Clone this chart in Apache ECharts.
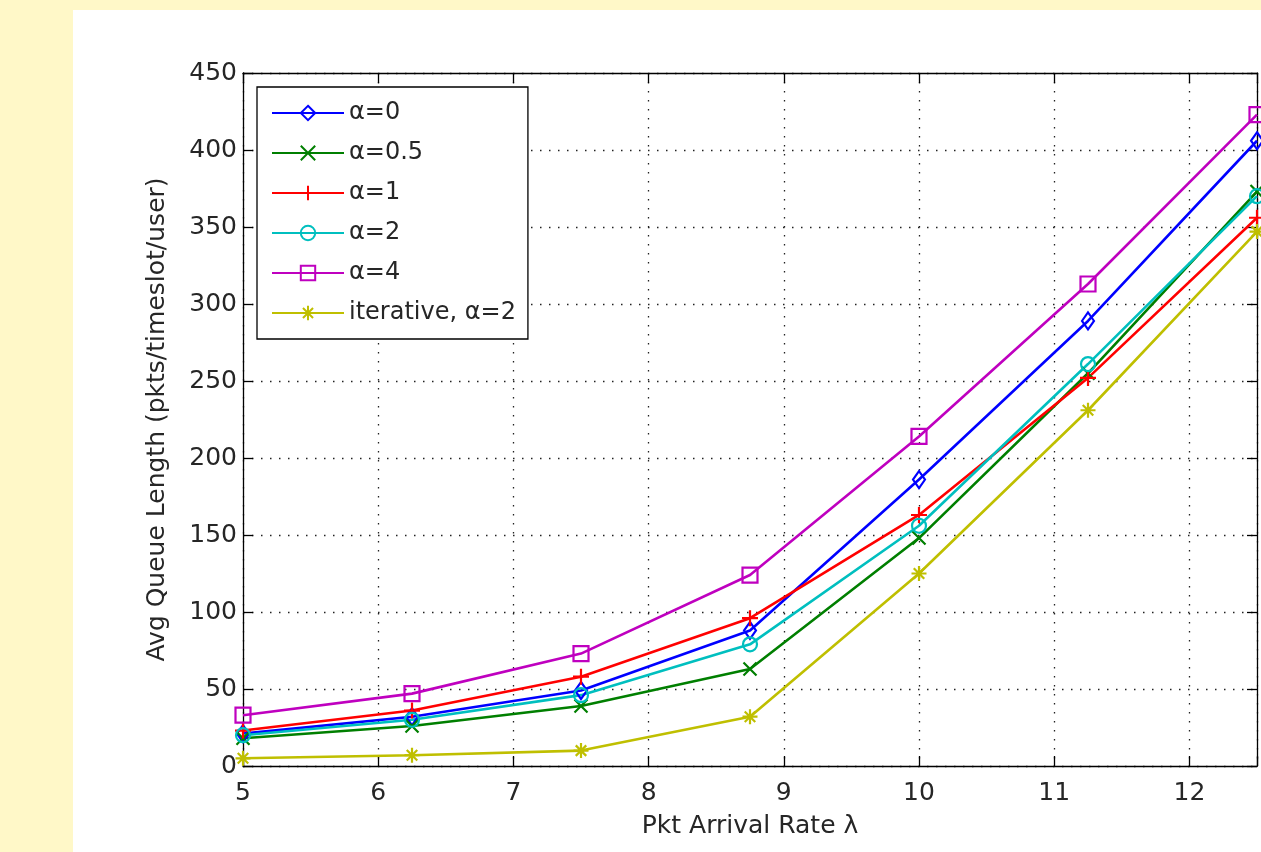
<!DOCTYPE html>
<html>
<head>
<meta charset="utf-8">
<title>Avg Queue Length vs Pkt Arrival Rate</title>
<script src="https://cdn.jsdelivr.net/npm/echarts@6/dist/echarts.min.js"></script>
<style>
  html, body { margin: 0; padding: 0; width: 1261px; height: 852px; overflow: hidden; background: #fff8c8; }
  #panel { position: absolute; left: 73px; top: 10px; right: 0; bottom: 0; background: #ffffff; }
  #chart { position: absolute; left: 0; top: 0; width: 1261px; height: 852px; }
</style>
</head>
<body>
<div id="panel"></div>
<div id="chart"></div>
<script>
// Packet arrival rates (x) and average queue length per scheme
const lambdaVals = [5, 6.25, 7.5, 8.75, 10, 11.25, 12.5];
const alpha0     = [21, 32, 49, 88, 186, 289, 406];
const alpha05    = [18, 26, 39, 63, 148, 255, 373];
const alpha1     = [23, 36, 58, 96, 163, 252, 356];
const alpha2     = [20, 30, 46, 79, 156, 261, 370];
const alpha4     = [33, 47, 73, 124, 214, 313, 423];
const iterative2 = [5, 7, 10, 32, 125, 231, 347];

const seriesNames = ['α=0', 'α=0.5', 'α=1', 'α=2', 'α=4', 'iterative, α=2'];

// Axis ticks
const xTicks = [5, 6, 7, 8, 9, 10, 11, 12];
const xMax = 12.5;
const yTicks = [0, 50, 100, 150, 200, 250, 300, 350, 400, 450];

const FONT = 'DejaVu Sans';
const FS = 25;
const TEXT = '#262626';

const colors = ['#0000ff', '#007f00', '#ff0000', '#00bfbf', '#bf00bf', '#bfbf00'];
const symbols = [
  'diamond',
  'path://M0,0L10,10M10,0L0,10',
  'path://M5,0L5,10M0,5L10,5',
  'circle',
  'rect',
  'path://M5,0L5,10M0,5L10,5M1.5,1.5L8.5,8.5M8.5,1.5L1.5,8.5'
];
const symbolSizes = [[12, 17], 13, 16, 14, 15, 15];
const values = [alpha0, alpha05, alpha1, alpha2, alpha4, iterative2];

const series = values.map((vals, i) => ({
  name: seriesNames[i],
  type: 'line',
  data: lambdaVals.map((x, k) => [x, vals[k]]),
  symbol: symbols[i],
  symbolSize: symbolSizes[i],
  showAllSymbol: true,
  clip: false,
  lineStyle: { color: colors[i], width: 2.6 },
  itemStyle: { color: 'rgba(0,0,0,0)', borderColor: colors[i], borderWidth: 2.2 },
  emphasis: { disabled: true },
  animation: false
}));

const gridLine = { show: true, lineStyle: { color: '#222', width: 1.3, type: [1.5, 7.5] } };

const chart = echarts.init(document.getElementById('chart'), null, { renderer: 'canvas' });
chart.setOption({
  animation: false,
  backgroundColor: 'transparent',
  textStyle: { fontFamily: FONT },
  grid: { left: 243, top: 73, width: 1014, height: 693, containLabel: false, outerBoundsMode: 'none' },
  legend: {
    orient: 'vertical',
    left: 257,
    top: 87,
    padding: [14, 12, 14, 14],
    backgroundColor: '#ffffff',
    borderColor: '#000000',
    borderWidth: 1.3,
    itemWidth: 72,
    itemHeight: 18,
    itemGap: 16,
    textStyle: { fontFamily: FONT, fontSize: 24, color: TEXT, lineHeight: 24 },
    data: seriesNames
  },
  xAxis: [
    {
      type: 'value',
      min: xTicks[0],
      max: xMax,
      interval: xTicks[1] - xTicks[0],
      name: 'Pkt Arrival Rate λ',
      nameLocation: 'middle',
      nameGap: 48,
      nameTextStyle: { fontFamily: FONT, fontSize: FS, color: TEXT },
      axisLine: { show: true, onZero: false, lineStyle: { color: '#000', width: 1.3 } },
      axisTick: { show: true, inside: true, length: 10, lineStyle: { color: '#000', width: 1.3 } },
      axisLabel: {
        margin: 15,
        fontFamily: FONT, fontSize: FS, color: TEXT,
        formatter: v => (xTicks.indexOf(v) >= 0 ? String(v) : '')
      },
      splitLine: gridLine
    },
    {
      type: 'value',
      position: 'top',
      min: xTicks[0],
      max: xMax,
      interval: xTicks[1] - xTicks[0],
      axisLine: { show: true, onZero: false, lineStyle: { color: '#000', width: 1.3 } },
      axisTick: { show: true, inside: true, length: 10, lineStyle: { color: '#000', width: 1.3 } },
      axisLabel: { show: false },
      splitLine: { show: false }
    }
  ],
  yAxis: [
    {
      type: 'value',
      min: yTicks[0],
      max: yTicks[yTicks.length - 1],
      interval: yTicks[1] - yTicks[0],
      name: 'Avg Queue Length (pkts/timeslot/user)',
      nameLocation: 'middle',
      nameRotate: 90,
      nameGap: 73,
      nameTextStyle: { fontFamily: FONT, fontSize: FS, color: TEXT },
      axisLine: { show: true, onZero: false, lineStyle: { color: '#000', width: 1.3 } },
      axisTick: { show: true, inside: true, length: 10, lineStyle: { color: '#000', width: 1.3 } },
      axisLabel: { margin: 6, fontFamily: FONT, fontSize: FS, color: TEXT },
      splitLine: gridLine
    },
    {
      type: 'value',
      position: 'right',
      min: yTicks[0],
      max: yTicks[yTicks.length - 1],
      interval: yTicks[1] - yTicks[0],
      axisLine: { show: true, onZero: false, lineStyle: { color: '#000', width: 1.3 } },
      axisTick: { show: true, inside: true, length: 10, lineStyle: { color: '#000', width: 1.3 } },
      axisLabel: { show: false },
      splitLine: { show: false }
    }
  ],
  series: series
});
</script>
</body>
</html>
